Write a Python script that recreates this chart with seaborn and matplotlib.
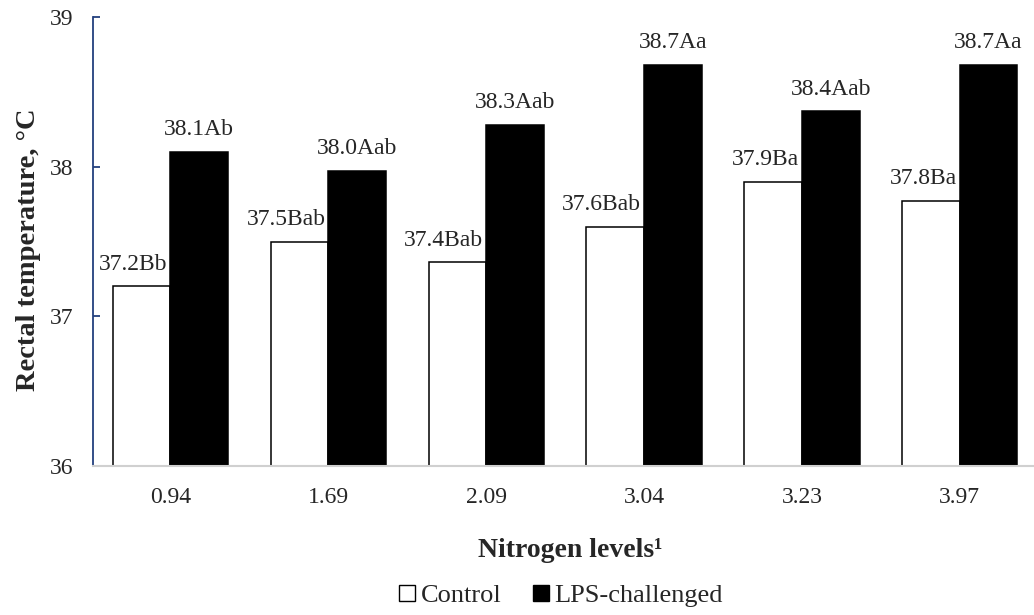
import pandas as pd
import matplotlib.pyplot as plt
import seaborn as sns
from matplotlib.patches import Patch

# values
levels = ["0.94", "1.69", "2.09", "3.04", "3.23", "3.97"]
control = [37.20, 37.50, 37.36, 37.60, 37.90, 37.77]
lps = [38.10, 37.97, 38.28, 38.68, 38.37, 38.68]
control_labels = ["37.2Bb", "37.5Bab", "37.4Bab", "37.6Bab", "37.9Ba", "37.8Ba"]
lps_labels = ["38.1Ab", "38.0Aab", "38.3Aab", "38.7Aa", "38.4Aab", "38.7Aa"]
groups = ["Control", "LPS-challenged"]

df = pd.DataFrame({
    "level": levels * 2,
    "temp": control + lps,
    "group": [groups[0]] * len(levels) + [groups[1]] * len(levels),
})

sns.set_style("white")
plt.rcParams["font.family"] = ["Liberation Serif", "DejaVu Serif"]

fig = plt.figure(figsize=(10.34, 6.15), dpi=100)
ax = fig.add_axes([93 / 1034, 1 - 466 / 615, 941 / 1034, 449 / 615])

sns.barplot(data=df, x="level", y="temp", hue="group", order=levels,
            hue_order=groups, palette={"Control": "white", "LPS-challenged": "black"},
            width=0.73, edgecolor="black", linewidth=1.1, legend=False, ax=ax)

ax.set_ylim(36, 39)
ax.set_xlim(-0.49, 5.47)
ax.set_yticks([36, 37, 38, 39])

axis_blue = "#23407e"
for side in ["top", "right"]:
    ax.spines[side].set_visible(False)
ax.spines["left"].set_color(axis_blue)
ax.spines["left"].set_linewidth(1.3)
ax.spines["bottom"].set_color("#d0d0d0")
ax.spines["bottom"].set_linewidth(1.5)

ax.tick_params(axis="y", direction="in", length=5, width=1.3, color=axis_blue,
               pad=14, labelsize=17, left=True)
ax.tick_params(axis="x", length=0, pad=15, labelsize=17)

ax.set_ylabel("Rectal temperature, °C", fontsize=20.5, fontweight="bold")
ax.yaxis.set_label_coords(-52 / 941, 0.5 - 8 / 449)
ax.set_xlabel("Nitrogen levels¹", fontsize=20, fontweight="bold")
ax.xaxis.set_label_coords(0.507, -91 / 449)
ax.xaxis.label.set_va("baseline")

# value labels above bars
for bar, txt in zip(ax.containers[0], control_labels):
    ax.annotate(txt, (bar.get_x() + bar.get_width(), bar.get_height()),
                xytext=(-2, 12), textcoords="offset points",
                ha="right", va="baseline", fontsize=17)
for bar, txt in zip(ax.containers[1], lps_labels):
    ax.annotate(txt, (bar.get_x() + bar.get_width() / 2, bar.get_height()),
                xytext=(0, 12), textcoords="offset points",
                ha="center", va="baseline", fontsize=17)

handles = [Patch(facecolor="white", edgecolor="black", linewidth=1.0),
           Patch(facecolor="black", edgecolor="black", linewidth=1.0)]
fig.legend(handles, groups, loc="center", bbox_to_anchor=(561 / 1034, 1 - 596 / 615),
           ncol=2, frameon=False, fontsize=19, handlelength=0.6, handleheight=0.6,
           handletextpad=0.2, columnspacing=1.2)

fig.savefig("out.png", dpi=100)
